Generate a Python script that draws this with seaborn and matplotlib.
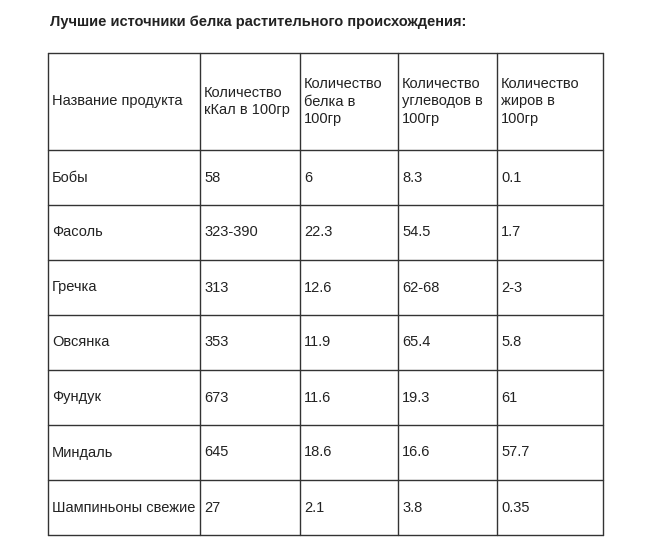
import matplotlib.pyplot as plt
import seaborn as sns

sns.set_style("white")
plt.rcParams['font.family'] = ['Liberation Sans', 'DejaVu Sans']

title = "Лучшие источники белка растительного происхождения:"
headers = ["Название продукта", "Количество\nкКал в 100гр", "Количество\nбелка в\n100гр",
           "Количество\nуглеводов в\n100гр", "Количество\nжиров в\n100гр"]
products = ["Бобы", "Фасоль", "Гречка", "Овсянка", "Фундук", "Миндаль", "Шампиньоны свежие"]
kcal = ["58", "323-390", "313", "353", "673", "645", "27"]
protein = ["6", "22.3", "12.6", "11.9", "11.6", "18.6", "2.1"]
carbs = ["8.3", "54.5", "62-68", "65.4", "19.3", "16.6", "3.8"]
fat = ["0.1", "1.7", "2-3", "5.8", "61", "57.7", "0.35"]

# table geometry in pixels
col_x = [48, 200, 300, 398, 497, 603]
top, header_h, row_h = 53, 97, 55

fig = plt.figure(figsize=(6.59, 5.48), dpi=100)
ax = fig.add_axes([0, 0, 1, 1])
ax.set_xlim(0, 659)
ax.set_ylim(548, 0)
ax.axis("off")

ax.text(50, 22, title, fontsize=10.5, fontweight="bold", va="center", ha="left", color="#222222")

n_rows = len(products)
bottom = top + header_h + row_h * n_rows
line_kw = dict(color="#333333", lw=1)
for x in col_x:
    ax.plot([x, x], [top, bottom], **line_kw)
y_lines = [top, top + header_h] + [top + header_h + row_h * (i + 1) for i in range(n_rows)]
for y in y_lines:
    ax.plot([col_x[0], col_x[-1]], [y, y], **line_kw)

txt_kw = dict(fontsize=10.5, color="#222222", va="center", ha="left", linespacing=1.35)
for j, h in enumerate(headers):
    ax.text(col_x[j] + 4, top + header_h / 2, h, **txt_kw)

columns = [products, kcal, protein, carbs, fat]
for j, col in enumerate(columns):
    for i, val in enumerate(col):
        y = top + header_h + row_h * i + row_h / 2
        ax.text(col_x[j] + 4, y, val, **txt_kw)

fig.savefig("out.png", dpi=100)
